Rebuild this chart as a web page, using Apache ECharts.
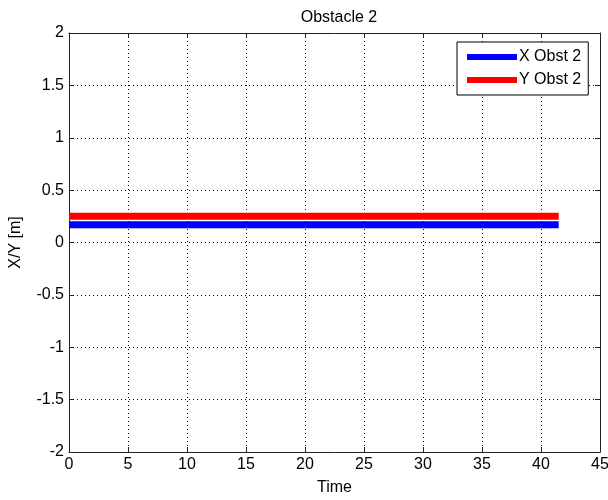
<!DOCTYPE html>
<html><head><meta charset="utf-8">
<script src="https://cdn.jsdelivr.net/npm/echarts@6/dist/echarts.min.js"></script>
<style>html,body{margin:0;padding:0;background:#fff}#c{width:608px;height:500px}</style>
</head><body><div id="c"></div>
<script>
const timeVals = [0, 41.5];
const xObst2 = [0.17, 0.17];
const yObst2 = [0.25, 0.25];
const seriesNames = ['X Obst 2', 'Y Obst 2'];
const titleText = 'Obstacle 2';
const xLabel = 'Time';
const yLabel = 'X/Y [m]';

const F = 'Liberation Sans, Arial, sans-serif';
const chart = echarts.init(document.getElementById('c'), null, {renderer: 'canvas'});
const grid = {left: 69, top: 33, right: 8, bottom: 48, containLabel: false, outerBoundsMode: 'none'};
const axLine = {show: true, onZero: false, lineStyle: {color: '#222', width: 1}};
const gridLine = {show: true, lineStyle: {color: '#000', type: [1, 3], width: 1}};
const tick = {show: true, inside: true, length: 5, lineStyle: {color: '#222'}};
chart.setOption({
  backgroundColor: '#fff',
  animation: false,
  title: {text: titleText, left: 334, textAlign: 'center', top: 5,
    textStyle: {fontFamily: F, fontSize: 16, fontWeight: 'normal', color: '#000'}},
  grid: grid,
  legend: {
    orient: 'vertical', left: 457, top: 42, itemGap: 7, itemWidth: 50, itemHeight: 6,
    icon: 'rect', padding: [7, 7, 7, 10], borderColor: '#000', borderWidth: 1,
    backgroundColor: '#fff',
    textStyle: {fontFamily: F, fontSize: 16, color: '#000', padding: [0, 0, 0, -3]},
    data: seriesNames
  },
  xAxis: [{
    type: 'value', min: 0, max: 45, interval: 5,
    name: xLabel, nameLocation: 'middle', nameGap: 28,
    nameTextStyle: {fontFamily: F, fontSize: 16, color: '#000'},
    axisLine: axLine, axisTick: tick,
    axisLabel: {fontFamily: F, fontSize: 16, color: '#000', margin: 5},
    splitLine: gridLine
  }, {
    type: 'value', min: 0, max: 45, interval: 5, position: 'top',
    axisLine: axLine, axisTick: tick,
    axisLabel: {show: false}, splitLine: {show: false}
  }],
  yAxis: [{
    type: 'value', min: -2, max: 2, interval: 0.5,
    name: yLabel, nameLocation: 'middle', nameGap: 45, nameRotate: 90,
    nameTextStyle: {fontFamily: F, fontSize: 16, color: '#000'},
    axisLine: axLine, axisTick: tick,
    axisLabel: {fontFamily: F, fontSize: 16, color: '#000', margin: 5},
    splitLine: gridLine
  }, {
    type: 'value', min: -2, max: 2, interval: 0.5, position: 'right',
    axisLine: axLine, axisTick: tick,
    axisLabel: {show: false}, splitLine: {show: false}
  }],
  series: [
    {name: seriesNames[0], type: 'line', showSymbol: false, symbol: 'none',
     data: timeVals.map((t, i) => [t, xObst2[i]]),
     lineStyle: {color: '#0000ff', width: 7, cap: 'butt'}, itemStyle: {color: '#0000ff'}},
    {name: seriesNames[1], type: 'line', showSymbol: false, symbol: 'none',
     data: timeVals.map((t, i) => [t, yObst2[i]]),
     lineStyle: {color: '#ff0000', width: 7, cap: 'butt'}, itemStyle: {color: '#ff0000'}}
  ]
});
</script></body></html>
